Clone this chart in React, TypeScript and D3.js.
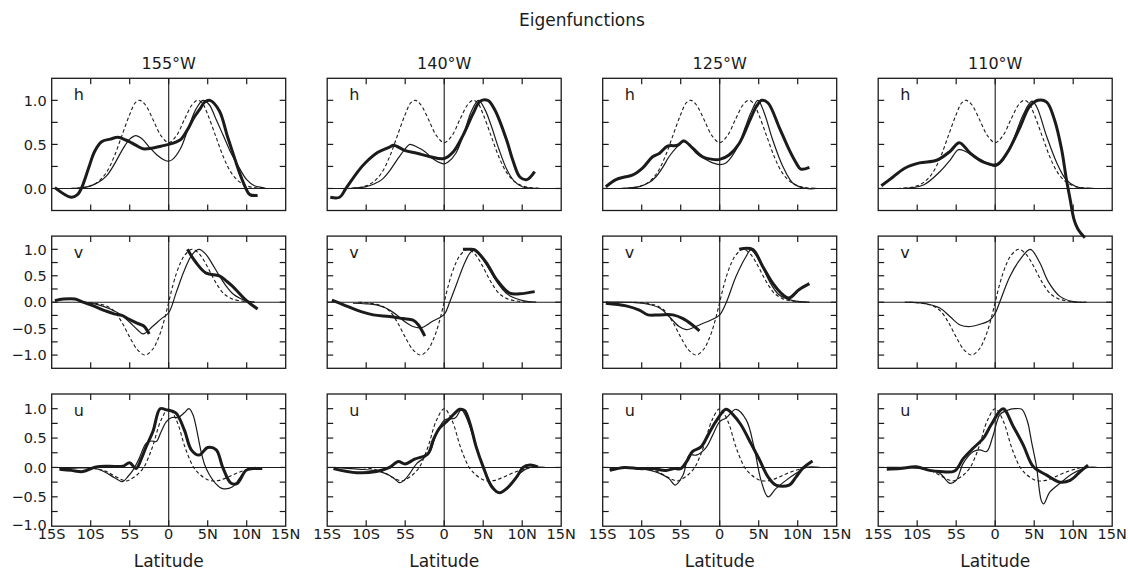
import React from 'react';
import * as d3 from 'd3';

type Pt = [number, number];

// ---- labels ----
const title = 'Eigenfunctions';
const columnTitles = ['155°W', '140°W', '125°W', '110°W'];
const latTickValues = [-15, -10, -5, 0, 5, 10, 15];
const latTickLabels = ['15S', '10S', '5S', '0', '5N', '10N', '15N'];
const variableNames = ['h', 'v', 'u'];

// ---- theoretical eigenfunctions (dashed), shared by every longitude ----
const hTheory: Pt[] = [[-12.5, 0], [-11, 0.01], [-10, 0.03], [-9, 0.08], [-8, 0.18], [-7, 0.36], [-6, 0.6], [-5, 0.84], [-4.3, 0.97], [-3.7, 1.0], [-3, 0.95], [-2, 0.78], [-1, 0.6], [0, 0.52], [1, 0.6], [2, 0.78], [3, 0.95], [3.7, 1.0], [4.3, 0.97], [5, 0.84], [6, 0.6], [7, 0.36], [8, 0.18], [9, 0.08], [10, 0.03], [11, 0.01], [12.5, 0]];
const vTheory: Pt[] = [[-11, 0], [-10, -0.01], [-9, -0.03], [-8, -0.07], [-7, -0.17], [-6, -0.38], [-5, -0.66], [-4, -0.9], [-3, -1.0], [-2, -0.88], [-1.5, -0.74], [-1, -0.55], [-0.5, -0.3], [0, 0], [0.5, 0.3], [1, 0.55], [1.5, 0.74], [2, 0.88], [3, 1.0], [4, 0.9], [5, 0.66], [6, 0.38], [7, 0.17], [8, 0.07], [9, 0.03], [10, 0.01], [11, 0]];
const uTheory: Pt[] = [[-10.5, 0], [-9, -0.03], [-8, -0.07], [-7, -0.14], [-6, -0.21], [-5.5, -0.23], [-5, -0.21], [-4, -0.12], [-3.2, 0], [-2.5, 0.2], [-2, 0.38], [-1, 0.8], [0, 1.0], [1, 0.8], [2, 0.38], [2.5, 0.2], [3.2, 0], [4, -0.12], [5, -0.21], [5.7, -0.23], [6.5, -0.22], [7.5, -0.17], [8.5, -0.11], [9.5, -0.06], [10.5, -0.02], [11, 0]];

// ---- 155°W ----
const h155Model: Pt[] = [[-12.5, 0], [-11, 0.01], [-10, 0.03], [-9, 0.07], [-8, 0.14], [-7, 0.27], [-6, 0.43], [-5, 0.56], [-4.2, 0.6], [-3.5, 0.57], [-2.5, 0.47], [-1.5, 0.38], [-0.5, 0.32], [0, 0.31], [0.5, 0.33], [1.5, 0.45], [2.5, 0.68], [3.5, 0.9], [4.4, 1.0], [5.2, 0.95], [6, 0.8], [7, 0.6], [8, 0.4], [9, 0.24], [10, 0.1], [11, 0.03], [12, 0.01], [12.5, 0]];
const h155Obs: Pt[][] = [[[-14.6, 0.01], [-12.5, -0.1], [-11.7, -0.07], [-11.2, 0.0], [-10.2, 0.25], [-9.5, 0.42], [-8.6, 0.53], [-7.5, 0.56], [-6.5, 0.58], [-5.5, 0.55], [-4.8, 0.52], [-4, 0.48], [-3.3, 0.45], [-2, 0.46], [-1, 0.48], [0, 0.5], [1, 0.53], [1.6, 0.56], [2.5, 0.68], [3.2, 0.8], [4, 0.9], [4.6, 0.98], [5.3, 1.0], [6.5, 0.88], [7.5, 0.6], [8.5, 0.33], [9.2, 0.15], [9.9, 0.0], [10.4, -0.07], [11.4, -0.08]]];
const v155Model: Pt[] = [[-11, 0], [-9, -0.05], [-7.5, -0.13], [-6, -0.25], [-5, -0.38], [-4, -0.52], [-3.3, -0.6], [-2, -0.45], [-1, -0.32], [0, -0.2], [1, 0.2], [2, 0.6], [3, 0.9], [3.9, 1.0], [4.8, 0.9], [5.6, 0.72], [6.5, 0.5], [7.4, 0.3], [8.3, 0.15], [9.2, 0.07], [10, 0.02], [11, 0]];
const v155Obs: Pt[][] = [
  [[-14.6, 0.03], [-13.5, 0.06], [-12, 0.06], [-11, 0.0], [-9.5, -0.08], [-8, -0.17], [-7, -0.22], [-6, -0.25], [-5, -0.33], [-4, -0.4], [-3.2, -0.45], [-2.5, -0.6]],
  [[2.4, 1.0], [3.5, 0.75], [4.8, 0.55], [6.5, 0.5], [7.4, 0.4], [8.2, 0.3], [9.9, 0.04], [11.4, -0.13]],
];
const u155Model: Pt[] = [[-14, -0.02], [-12, -0.01], [-10, -0.01], [-9, -0.03], [-8, -0.09], [-7, -0.17], [-5.9, -0.24], [-5.2, -0.15], [-4.6, -0.05], [-3.8, 0.15], [-2.9, 0.41], [-2.2, 0.45], [-1.6, 0.44], [-1, 0.6], [-0.3, 0.78], [0.4, 0.85], [1.2, 0.85], [2, 0.93], [2.6, 1.0], [3.1, 0.9], [3.5, 0.7], [4.1, 0.3], [4.6, 0.05], [5.2, -0.12], [6, -0.27], [6.9, -0.36], [8.2, -0.33], [9, -0.2], [9.9, -0.05], [11.2, 0]];
const u155Obs: Pt[][] = [[[-14, -0.03], [-12.5, -0.05], [-11, -0.07], [-9.3, 0.01], [-7.6, 0.02], [-5.9, 0.02], [-5, 0.08], [-4.2, -0.02], [-3.5, 0.15], [-2.9, 0.35], [-2, 0.62], [-1.1, 1.0], [-0.3, 0.98], [0.9, 0.93], [2, 0.64], [2.9, 0.3], [3.9, 0.21], [5, 0.34], [6.1, 0.3], [6.9, 0.01], [8, -0.27], [8.8, -0.27], [9.9, -0.05], [10.8, -0.02], [12, -0.02]]];

// ---- 140°W ----
const h140Model: Pt[] = [[-12, 0], [-10, 0.02], [-9, 0.05], [-8, 0.1], [-7, 0.2], [-6, 0.33], [-5, 0.45], [-4.4, 0.5], [-3.5, 0.47], [-2.5, 0.42], [-1.5, 0.34], [-0.5, 0.29], [0, 0.28], [0.5, 0.3], [1.5, 0.4], [2.5, 0.62], [3.5, 0.88], [4.4, 1.0], [5.2, 0.9], [6, 0.72], [7, 0.45], [8, 0.22], [9, 0.08], [10, 0.02], [11, 0.005], [12, 0]];
const h140Obs: Pt[][] = [[[-14.6, -0.1], [-13.4, -0.1], [-12.6, 0.0], [-11, 0.2], [-10, 0.3], [-8.5, 0.41], [-7, 0.47], [-6.5, 0.49], [-5, 0.43], [-3.5, 0.4], [-1.8, 0.36], [0, 0.34], [1.2, 0.42], [2.4, 0.6], [3.7, 0.85], [4.6, 0.99], [5.6, 1.0], [6.5, 0.89], [8, 0.55], [8.8, 0.32], [9.7, 0.13], [10.6, 0.1], [11.6, 0.19]]];
const v140Model: Pt[] = [[-11.7, -0.02], [-10, -0.03], [-8.7, -0.05], [-7.5, -0.11], [-7, -0.15], [-6, -0.25], [-5.3, -0.34], [-4, -0.46], [-2.9, -0.48], [-1.5, -0.36], [0, -0.23], [0.7, 0.0], [1.6, 0.35], [2.5, 0.7], [3.3, 0.93], [3.9, 1.0], [4.6, 0.88], [5.4, 0.71], [6.7, 0.4], [7.5, 0.24], [8.4, 0.12], [10.1, 0.03], [11.8, 0]];
const v140Obs: Pt[][] = [
  [[-14.4, 0.04], [-12.9, -0.05], [-11.2, -0.15], [-9.1, -0.24], [-7, -0.27], [-5.3, -0.31], [-4, -0.34], [-3.3, -0.43], [-2.5, -0.64]],
  [[2.4, 1.0], [3.2, 1.0], [3.9, 0.99], [5.4, 0.75], [6.7, 0.43], [8.4, 0.17], [9.7, 0.16], [11.6, 0.2]],
];
const u140Model: Pt[] = [[-14.2, 0], [-11, -0.03], [-9.1, -0.05], [-7.4, -0.11], [-6.5, -0.18], [-5.7, -0.26], [-5, -0.2], [-4.4, -0.1], [-3.5, 0.07], [-2.7, 0.15], [-1.8, 0.27], [-1, 0.58], [0.1, 0.81], [1.4, 0.84], [2.2, 0.98], [3, 0.8], [4.1, 0.35], [5, 0.01], [6.1, -0.3], [7.1, -0.43], [8.4, -0.32], [9.7, -0.1], [11, 0], [12.9, 0]];
const u140Obs: Pt[][] = [[[-14.2, -0.02], [-11.2, -0.09], [-8.7, -0.07], [-7, 0], [-5.9, 0.1], [-5, 0.06], [-3.8, 0.14], [-2.1, 0.23], [-1.4, 0.47], [-0.6, 0.67], [0.3, 0.78], [1.4, 0.93], [2, 0.99], [2.6, 0.97], [3.3, 0.75], [4.1, 0.35], [5, 0.01], [6.1, -0.33], [7.1, -0.43], [8, -0.36], [9.3, -0.16], [10.1, 0], [11, 0.04], [12, 0.01]]];

// ---- 125°W ----
const h125Model: Pt[] = [[-12.6, 0], [-10.3, 0.02], [-9, 0.07], [-8.2, 0.13], [-7.3, 0.24], [-6.5, 0.36], [-5.5, 0.47], [-4.7, 0.53], [-4, 0.5], [-3, 0.4], [-2, 0.34], [-0.9, 0.29], [0, 0.27], [0.8, 0.29], [1.6, 0.37], [2.5, 0.51], [3.3, 0.7], [4, 0.86], [4.9, 1.0], [5.7, 0.86], [6.8, 0.55], [8.1, 0.25], [9.4, 0.06], [11.1, 0], [12.4, 0]];
const h125Obs: Pt[][] = [[[-14.6, 0.02], [-13.3, 0.1], [-12.2, 0.13], [-11.2, 0.15], [-9.9, 0.23], [-8.6, 0.36], [-7.7, 0.4], [-6.7, 0.48], [-5.4, 0.49], [-4.6, 0.54], [-3.5, 0.46], [-2.2, 0.36], [-0.9, 0.33], [0, 0.33], [1.2, 0.38], [2.5, 0.51], [3.8, 0.76], [4.7, 0.93], [5.4, 1.0], [6.2, 0.97], [7.6, 0.7], [8.9, 0.44], [9.8, 0.29], [10.4, 0.22], [11.5, 0.24]]];
const v125Model: Pt[] = [[-14.6, 0], [-9.9, -0.02], [-7.7, -0.11], [-6.5, -0.27], [-5.2, -0.46], [-4.3, -0.52], [-2.6, -0.43], [-0.7, -0.31], [0, -0.24], [0.8, -0.02], [2.1, 0.49], [3.4, 0.87], [4, 0.99], [5.1, 0.78], [6.4, 0.39], [7.6, 0.14], [9.4, 0.03], [11.5, 0]];
const v125Obs: Pt[][] = [
  [[-14.6, -0.02], [-12, -0.07], [-10.3, -0.15], [-9.2, -0.24], [-7.7, -0.24], [-6, -0.24], [-4.7, -0.31], [-3.5, -0.43], [-2.6, -0.54]],
  [[2.5, 1.0], [4.2, 1.0], [5.5, 0.68], [6.8, 0.36], [8.1, 0.14], [8.9, 0.08], [10.2, 0.24], [11.5, 0.35]],
];
const u125Model: Pt[] = [[-14.1, -0.02], [-10.3, -0.02], [-7.7, -0.1], [-6.5, -0.19], [-5.7, -0.3], [-4.7, -0.13], [-3.9, 0.21], [-3, 0.21], [-1.8, 0.33], [-0.9, 0.55], [0, 0.78], [0.8, 0.84], [2.1, 0.99], [3.4, 0.81], [4.4, 0.35], [5.3, -0.22], [6.2, -0.5], [7.2, -0.36], [8.5, -0.22], [9.8, -0.1], [11.1, 0], [12.8, 0]];
const u125Obs: Pt[][] = [[[-14.1, -0.05], [-12.2, 0], [-10.3, -0.02], [-8.6, -0.02], [-6.9, -0.05], [-5.8, -0.02], [-5, -0.02], [-4.1, 0.13], [-3.5, 0.27], [-2.4, 0.35], [-1.5, 0.55], [-0.5, 0.78], [0.8, 0.99], [1.7, 0.9], [2.7, 0.73], [4, 0.41], [5.1, 0.13], [6.2, -0.16], [7.2, -0.3], [8.9, -0.3], [9.8, -0.16], [10.6, -0.02], [11.9, 0.11]]];

// ---- 110°W ----
const h110Model: Pt[] = [[-11.8, 0], [-9.2, 0.04], [-7.1, 0.19], [-5.8, 0.32], [-4.7, 0.44], [-3.8, 0.42], [-2.8, 0.37], [-1.1, 0.29], [0, 0.25], [1, 0.32], [2.3, 0.55], [3.6, 0.84], [4.7, 0.99], [5.3, 0.93], [6.6, 0.59], [7.9, 0.29], [9.1, 0.1], [10.4, 0.02], [12.6, 0]];
const h110Obs: Pt[][] = [[[-14.6, 0.03], [-13.1, 0.13], [-11.6, 0.23], [-9.7, 0.29], [-7.5, 0.32], [-5.8, 0.42], [-4.6, 0.52], [-3.2, 0.4], [-1.5, 0.3], [0.2, 0.27], [1.5, 0.4], [3.2, 0.7], [4.4, 0.93], [5.5, 1.0], [6.6, 0.98], [7.6, 0.78], [8.5, 0.45], [9.1, 0.12], [9.6, -0.12], [10.1, -0.35], [10.6, -0.46], [11.5, -0.56]]];
const v110Model: Pt[] = [[-11.6, 0], [-8.8, -0.03], [-7.1, -0.11], [-5.8, -0.27], [-4.5, -0.43], [-3.2, -0.46], [-2, -0.42], [-0.7, -0.34], [0, -0.21], [0.6, 0.01], [1.9, 0.49], [3.2, 0.81], [4.5, 1.0], [5.7, 0.75], [6.8, 0.39], [8.3, 0.11], [10, 0.01], [11.7, 0]];
const v110Obs: Pt[][] = [];
const u110Model: Pt[] = [[-13.9, 0], [-10, -0.01], [-8.4, -0.05], [-7.1, -0.1], [-5.8, -0.27], [-5, -0.22], [-4.1, 0.07], [-2.8, 0.27], [-2, 0.3], [-1.1, 0.27], [-0.3, 0.53], [0.6, 0.9], [1.5, 0.97], [2.5, 1.0], [3.4, 0.99], [4.1, 0.8], [4.7, 0.41], [5.3, 0.01], [5.9, -0.56], [6.2, -0.62], [7, -0.42], [8.3, -0.27], [10, -0.1], [11.9, 0], [13, 0]];
const u110Obs: Pt[][] = [[[-13.9, -0.03], [-12.2, -0.02], [-10.1, 0.01], [-8.4, -0.05], [-7.1, -0.07], [-5.2, -0.06], [-4.1, 0.15], [-2.8, 0.33], [-1.5, 0.5], [-0.5, 0.73], [1, 1.0], [2.3, 0.7], [3.6, 0.38], [4.9, 0.01], [6.6, -0.13], [8.3, -0.25], [9.6, -0.22], [10.9, -0.07], [11.9, 0.04]]];

// ---- layout ----
const WIDTH = 1128;
const HEIGHT = 570;
const COL_LEFT = [51.7, 327.2, 602.7, 878.2];
const PANEL_W = 234;
const ROW_TOP = [78.3, 236.1, 394];
const PANEL_H = 132.2;
const FONT = '"DejaVu Sans", Verdana, sans-serif';
const INK = '#1b1b1b';

const rowSpecs = [
  { domain: [-0.25, 1.25] as [number, number], labels: [0, 0.5, 1], theory: hTheory },
  { domain: [-1.25, 1.25] as [number, number], labels: [-1, -0.5, 0, 0.5, 1], theory: vTheory },
  { domain: [-1, 1.25] as [number, number], labels: [-1, -0.5, 0, 0.5, 1], theory: uTheory },
];

const modelByCol: Pt[][][] = [
  [h155Model, v155Model, u155Model],
  [h140Model, v140Model, u140Model],
  [h125Model, v125Model, u125Model],
  [h110Model, v110Model, u110Model],
];
const obsByCol: Pt[][][][] = [
  [h155Obs, v155Obs, u155Obs],
  [h140Obs, v140Obs, u140Obs],
  [h125Obs, v125Obs, u125Obs],
  [h110Obs, v110Obs, u110Obs],
];

const fmt = (v: number) => (v < 0 ? '\u2212' : '') + d3.format('.1f')(Math.abs(v));

function Panel({ col, row }: { col: number; row: number }) {
  const spec = rowSpecs[row];
  const x0 = COL_LEFT[col];
  const y0 = ROW_TOP[row];
  const x = d3.scaleLinear().domain([-15, 15]).range([x0, x0 + PANEL_W]);
  const y = d3.scaleLinear().domain(spec.domain).range([y0 + PANEL_H, y0]);
  const line = d3
    .line<Pt>()
    .x((d) => x(d[0]))
    .y((d) => y(d[1]))
    .curve(d3.curveCatmullRom.alpha(0.5));

  const yTicks = d3.range(Math.ceil(spec.domain[0] / 0.25) + 1, Math.floor(spec.domain[1] / 0.25)).map((k) => k * 0.25);
  const xTicks = [-10, -5, 0, 5, 10];
  const tick = 6;

  return (
    <g>
      {/* zero lines */}
      <line x1={x0} x2={x0 + PANEL_W} y1={y(0)} y2={y(0)} stroke={INK} strokeWidth={1.1} />
      <line x1={x(0)} x2={x(0)} y1={y0} y2={y0 + PANEL_H} stroke={INK} strokeWidth={1.1} />
      {/* ticks */}
      {xTicks.map((t) => (
        <g key={'x' + t}>
          <line x1={x(t)} x2={x(t)} y1={y0} y2={y0 + tick} stroke={INK} strokeWidth={1.2} />
          <line x1={x(t)} x2={x(t)} y1={y0 + PANEL_H} y2={y0 + PANEL_H - tick} stroke={INK} strokeWidth={1.2} />
        </g>
      ))}
      {yTicks.map((t) => (
        <g key={'y' + t}>
          <line x1={x0} x2={x0 + tick} y1={y(t)} y2={y(t)} stroke={INK} strokeWidth={1.2} />
          <line x1={x0 + PANEL_W} x2={x0 + PANEL_W - tick} y1={y(t)} y2={y(t)} stroke={INK} strokeWidth={1.2} />
        </g>
      ))}
      {/* curves */}
      <path d={line(spec.theory) ?? ''} fill="none" stroke={INK} strokeWidth={1.1} strokeDasharray="3.5,2.5" />
      <path d={line(modelByCol[col][row]) ?? ''} fill="none" stroke={INK} strokeWidth={1.2} />
      {obsByCol[col][row].map((seg, i) => (
        <path key={i} d={line(seg) ?? ''} fill="none" stroke={INK} strokeWidth={3} strokeLinejoin="round" strokeLinecap="butt" />
      ))}
      {/* frame */}
      <rect x={x0} y={y0} width={PANEL_W} height={PANEL_H} fill="none" stroke={INK} strokeWidth={1.3} />
      {/* variable letter */}
      <text x={x0 + 22} y={y0 + 21.5} fontSize={16} fontFamily={FONT} fill={INK}>
        {variableNames[row]}
      </text>
      {/* y labels (first column only) */}
      {col === 0 &&
        spec.labels.map((t) => (
          <text key={'l' + t} x={x0 - 5} y={y(t) - (t === spec.domain[0] ? 1.5 : 0)} dy="0.36em" textAnchor="end" fontSize={14.5} fontFamily={FONT} fill={INK}>
            {fmt(t)}
          </text>
        ))}
      {/* x labels (bottom row only) */}
      {row === 2 &&
        latTickValues.map((t, i) => (
          <text key={'xl' + t} x={x(t)} y={y0 + PANEL_H + 13} textAnchor="middle" fontSize={14.5} fontFamily={FONT} fill={INK}>
            {latTickLabels[i]}
          </text>
        ))}
      {row === 2 && (
        <text x={x0 + PANEL_W / 2} y={566.5} textAnchor="middle" fontSize={17} fontFamily={FONT} fill={INK}>
          Latitude
        </text>
      )}
      {row === 0 && (
        <text x={x0 + PANEL_W / 2} y={y0 - 9.5} textAnchor="middle" fontSize={16} fontFamily={FONT} fill={INK}>
          {columnTitles[col]}
        </text>
      )}
    </g>
  );
}

export default function App() {
  return (
    <svg
      width={WIDTH}
      height={HEIGHT}
      viewBox={`0 0 ${WIDTH} ${HEIGHT}`}
      style={{ position: 'absolute', left: 0, top: 0, background: '#fff' }}
    >
      <rect width={WIDTH} height={HEIGHT} fill="#fff" />
      <text x={582} y={26} textAnchor="middle" fontSize={17} fontFamily={FONT} fill={INK}>
        {title}
      </text>
      {columnTitles.map((_, c) =>
        rowSpecs.map((__, r) => <Panel key={c + '-' + r} col={c} row={r} />)
      )}
    </svg>
  );
}
